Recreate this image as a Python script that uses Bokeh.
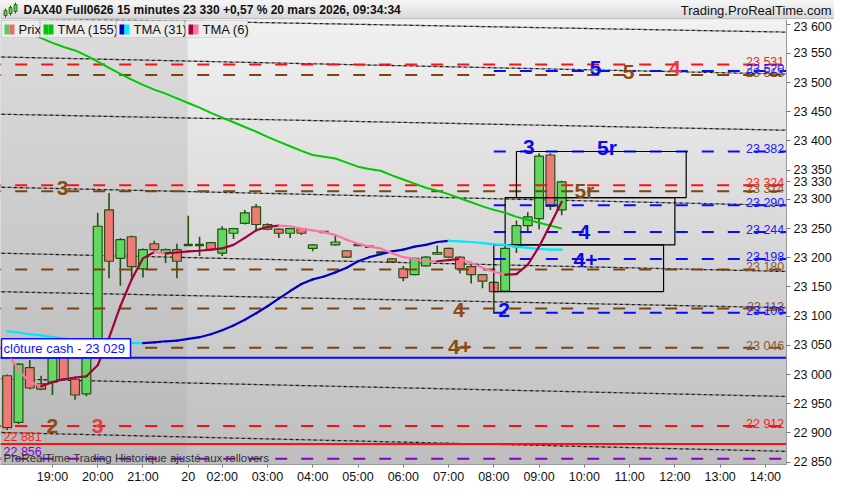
import numpy as np
from bokeh.plotting import figure
from bokeh.layouts import column
from bokeh.models import ColumnDataSource, FixedTicker, Range1d, Label, BoxAnnotation
from bokeh.core.properties import value
from bokeh.embed import file_html
from bokeh.resources import INLINE

FONT = "Liberation Sans"

# ---------------- data (15-minute candles, DAX40 Full0626) ----------------
opens = [22998, 22918, 23012, 22984, 22987, 23043, 22992, 22967, 23036, 23282,
         23199, 23236, 23181, 23224, 23209, 23214, 23222, 23222, 23226, 23208,
         23242, 23259, 23287, 23257, 23249, 23242, 23250, 23216, 23244, 23222,
         23212, 23222, 23219, 23209, 23198, 23181, 23171, 23186, 23209, 23216,
         23201, 23185, 23171, 23158, 23143, 23219, 23255, 23267, 23376, 23282]
highs = [23000, 23020, 23025, 22998, 23045, 23048, 22994, 23038, 23277, 23311,
         23234, 23238, 23216, 23229, 23216, 23224, 23272, 23236, 23227, 23254,
         23251, 23282, 23292, 23259, 23250, 23251, 23251, 23223, 23245, 23240,
         23213, 23223, 23220, 23210, 23199, 23186, 23200, 23203, 23221, 23217,
         23202, 23193, 23172, 23160, 23222, 23264, 23278, 23379, 23379, 23332]
lows = [22905, 22915, 22975, 22973, 22965, 22990, 22957, 22963, 23030, 23165,
        23152, 23166, 23166, 23212, 23191, 23165, 23220, 23203, 23213, 23203,
        23232, 23257, 23247, 23247, 23234, 23234, 23239, 23211, 23243, 23221,
        23200, 23221, 23218, 23208, 23192, 23160, 23170, 23185, 23205, 23199,
        23173, 23156, 23148, 23104, 23141, 23208, 23245, 23249, 23282, 23273]
closes = [22909, 23018, 22977, 22975, 23040, 22992, 22965, 23036, 23254, 23194,
          23231, 23185, 23214, 23214, 23214, 23194, 23222, 23222, 23214, 23249,
          23250, 23277, 23257, 23249, 23242, 23250, 23242, 23222, 23244, 23227,
          23201, 23222, 23219, 23209, 23193, 23166, 23199, 23201, 23206, 23201,
          23181, 23171, 23160, 23142, 23216, 23255, 23270, 23374, 23288, 23330]

tma155 = [23600, 23592, 23584, 23576, 23568, 23561, 23555, 23546, 23536, 23525,
          23515, 23505, 23496, 23488, 23481, 23473, 23465, 23457, 23448, 23440,
          23432, 23424, 23416, 23407, 23399, 23391, 23383, 23376, 23373, 23370,
          23363, 23356, 23352, 23349, 23341, 23334, 23327, 23320, 23315, 23309,
          23302, 23295, 23288, 23282, 23277, 23270, 23265, 23260, 23255, 23250]
tma31 = [23074, 23072, 23069, 23067, 23064, 23062, 23059, 23058, 23057, 23055,
         23054, 23054, 23054, 23055, 23057, 23058, 23061, 23064, 23069, 23076,
         23084, 23094, 23105, 23117, 23130, 23143, 23155, 23163, 23168, 23175,
         23183, 23194, 23201, 23206, 23211, 23214, 23219, 23222, 23227, 23229,
         23228, 23227, 23225, 23223, 23222, 23219, 23217, 23215, 23214, 23214]
tma6 = [23038, 23008, 22987, 22980, 22987, 22992, 22995, 22997, 23016, 23063,
        23117, 23163, 23199, 23210, 23207, 23209, 23211, 23212, 23214, 23216,
        23222, 23234, 23247, 23253, 23255, 23254, 23250, 23247, 23244, 23239,
        23231, 23224, 23219, 23216, 23208, 23201, 23198, 23194, 23194, 23196,
        23198, 23191, 23183, 23176, 23171, 23172, 23188, 23219, 23257, 23296]

x_tick_pos = [4, 8, 12, 16, 19, 23, 27, 31, 35, 39, 43, 47, 51, 55, 59, 63, 67]
x_tick_lbl = ["19:00", "20:00", "21:00", "20", "02:00", "03:00", "04:00", "05:00",
              "06:00", "07:00", "08:00", "09:00", "10:00", "11:00", "12:00", "13:00", "14:00"]
y_ticks = list(range(22850, 23601, 50))
session_start = 16          # first candle of 20 mars

# horizontal levels
dash_levels = [23513, 23314, 23180, 23113, 23046, 22912, 23531, 23324, 22912, 22856]
dash_kinds = ["brown", "brown", "brown", "brown", "brown", "brown", "red", "red", "red", "purple"]
blue_levels = [23520, 23382, 23290, 23244, 23198, 23106]
blue_from = 43
solid_levels = [23029, 22881]
solid_kinds = ["blue", "red"]

right_vals = [23513, 23531, 23520, 23382, 23324, 23314, 23290, 23244, 23198, 23180,
              23113, 23106, 23046, 22912]
right_kinds = ["brown", "red", "blue", "blue", "red", "brown", "blue", "blue", "blue", "brown",
               "brown", "blue", "brown", "red"]

# dotted channel lines (start/end candle index and price)
chan_i0, chan_i1 = -1, 70
chan_p0 = [23611, 23544, 23446, 23321, 23208, 23142, 22993, 22901]
chan_p1 = [23586, 23514, 23418, 23289, 23176, 23114, 22962, 22868]

# projection boxes
box_left = [45, 44, 43]
box_right = [60, 59, 58]
box_top = [23382, 23303, 23222]
box_bottom = [23303, 23222, 23142]

# wave labels
wave_text = ["3", "2", "3", "4", "4+", "2", "3", "5r", "5r", "4", "4+", "5", "5", "4"]
wave_i = [4.9, 4.0, 8.0, 39.9, 40.0, 43.9, 46.1, 53.0, 51.0, 51.0, 51.1, 52.0, 54.9, 59.0]
wave_p = [23320, 22912, 22912, 23110, 23048, 23110, 23390, 23388, 23316, 23244, 23197, 23525, 23518, 23525]
wave_kind = ["brown", "brown", "red", "brown", "brown", "blue", "blue", "blue", "brown", "blue",
             "blue", "blue", "brown", "red"]

last_price = 23330
cash_close = 23029
title_text = "DAX40 Full0626 15 minutes 23 330 +0,57 % 20 mars 2026, 09:34:34"
site_text = "Trading.ProRealTime.com"


def fmt(v):
    return f"{v // 1000} {v % 1000:03d}"


# ---------------- styling ----------------
LINE_COL = {"red": "#ff1010", "brown": "#7a4310", "blue": "#0a0aff", "purple": "#8400c8"}
TEXT_COL = {"red": "#ff2020", "brown": "#8a5a2e", "blue": "#1a1aff", "purple": "#8400c8"}
WAVE_COL = {"red": "#ee3a3a", "brown": "#8a4a10", "blue": "#0a0aee"}
WICK = "#24520e"
GREEN = "#62d862"
RED = "#ef7878"

TOTAL_W = 834
HDR_H = 19
FW, FH = 786, 445
X_LO = -0.59
X_HI = X_LO + FW / 11.317
Y_LO, Y_HI = 22846, 23608


def vgrad(top, bottom, n=160, w=4):
    img = np.empty((n, w), dtype=np.uint32)
    v = img.view(dtype=np.uint8).reshape((n, w, 4))
    for r in range(n):
        t = r / (n - 1)
        g = int(round(bottom + (top - bottom) * t))
        v[r, :, 0] = g
        v[r, :, 1] = g
        v[r, :, 2] = g
        v[r, :, 3] = 255
    return img


# ---------------- header strip ----------------
hdr = figure(frame_width=TOTAL_W, frame_height=HDR_H, x_range=Range1d(0, TOTAL_W),
             y_range=Range1d(0, HDR_H), output_backend="svg", toolbar_location=None,
             x_axis_location=None, y_axis_location=None, min_border=0,
             background_fill_color="#e4e4e4", border_fill_color="#e4e4e4",
             outline_line_color=None)
for obj in (hdr,):
    try:
        obj.frame_align = False
    except Exception:
        pass
hdr.xgrid.visible = False
hdr.ygrid.visible = False
hdr.image_rgba(image=[vgrad(247, 214, n=40)], x=-2, y=0, dw=TOTAL_W + 4, dh=HDR_H)
hdr.segment(x0=[0], x1=[TOTAL_W], y0=[0.5], y1=[0.5], line_color="#a8a8a8", line_width=1)
hdr.text(x=[23], y=[HDR_H / 2], text=[title_text], text_baseline="middle",
         text_font=value(FONT), text_font_size="12px", text_font_style="bold",
         text_color="#111111")
hdr.text(x=[TOTAL_W - 3], y=[HDR_H / 2], text=[site_text], text_baseline="middle",
         text_align="right", text_font=value(FONT), text_font_size="13px", text_color="#111111")
# small candle icon of the price window
icon_x = [5, 10, 15]
icon_b = [4, 6, 8]
icon_t = [9, 12, 15]
hdr.segment(x0=icon_x, x1=icon_x, y0=[b - 2 for b in icon_b], y1=[t + 2 for t in icon_t],
            line_color="#2a5a12", line_width=1)
hdr.vbar(x=icon_x, width=3, bottom=icon_b, top=icon_t, fill_color="#55c855",
         line_color="#2a5a12", line_width=0.8)

# ---------------- main chart ----------------
p = figure(frame_width=FW, frame_height=FH, x_range=Range1d(X_LO, X_HI),
           y_range=Range1d(Y_LO, Y_HI), output_backend="svg", toolbar_location=None,
           y_axis_location="right", min_border_left=0, min_border_right=TOTAL_W - FW,
           min_border_top=0, min_border_bottom=20, background_fill_color="#d6d6d6",
           border_fill_color="white", outline_line_color=None)
try:
    p.frame_align = False
except Exception:
    pass
p.xgrid.visible = False
p.ygrid.visible = False

p.image_rgba(image=[vgrad(220, 184)], x=X_LO - 1, y=Y_LO, dw=session_start - 0.05 - (X_LO - 1),
             dh=Y_HI - Y_LO)
p.image_rgba(image=[vgrad(241, 190)], x=session_start - 0.05, y=Y_LO,
             dw=X_HI + 1 - session_start, dh=Y_HI - Y_LO)

# axes
axis_ticks = sorted(y_ticks + [last_price])
for ax in (p.yaxis, p.xaxis):
    ax.major_label_text_font = FONT
    ax.major_label_text_color = "#111111"
    ax.axis_line_color = "#9a9a9a"
    ax.major_tick_line_color = "#777777"
    ax.minor_tick_line_color = None
    ax.major_tick_in = 0
p.yaxis.major_label_text_font_size = "12.5px"
p.xaxis.major_label_text_font_size = "12.5px"
p.yaxis.ticker = FixedTicker(ticks=axis_ticks)
p.yaxis.major_label_overrides = {t: fmt(t) for t in axis_ticks}
p.yaxis.major_tick_out = 4
p.yaxis.major_label_standoff = 3
p.xaxis.ticker = FixedTicker(ticks=x_tick_pos)
p.xaxis.major_label_overrides = dict(zip(x_tick_pos, x_tick_lbl))
p.xaxis.major_tick_out = 3
p.xaxis.major_label_standoff = 2

# dotted channel lines
n_ch = len(chan_p0)
ch = ColumnDataSource(dict(x0=[chan_i0] * n_ch, x1=[chan_i1] * n_ch, y0=chan_p0, y1=chan_p1))
p.segment(x0="x0", y0="y0", x1="x1", y1="y1", source=ch, line_color="#8c8c8c",
          line_width=1.3, line_dash="3 3", line_dash_offset=3)
p.segment(x0="x0", y0="y0", x1="x1", y1="y1", source=ch, line_color="#1a1a1a",
          line_width=1.3, line_dash="3 3")

# candles
idx = list(range(len(opens)))
src = ColumnDataSource(dict(
    x=idx, l=lows, h=highs,
    top=[max(o, c) for o, c in zip(opens, closes)],
    bot=[min(o, c) for o, c in zip(opens, closes)],
    col=[GREEN if c >= o else RED for o, c in zip(opens, closes)]))
p.segment(x0="x", y0="l", x1="x", y1="h", source=src, line_color=WICK, line_width=1.6)
p.vbar(x="x", width=0.78, top="top", bottom="bot", fill_color="col", line_color=WICK,
       line_width=1.2, source=src)
doji = [i for i in idx if opens[i] == closes[i]]
p.segment(x0=[i - 0.39 for i in doji], x1=[i + 0.39 for i in doji],
          y0=[closes[i] for i in doji], y1=[closes[i] for i in doji],
          line_color=WICK, line_width=2.5)

# levels
n_d = len(dash_levels)
p.segment(x0=[X_LO - 1] * n_d, x1=[X_HI + 1] * n_d, y0=dash_levels, y1=dash_levels,
          line_color=[LINE_COL[k] for k in dash_kinds], line_width=2, line_dash="12 14")
n_b = len(blue_levels)
p.segment(x0=[blue_from] * n_b, x1=[X_HI + 1] * n_b, y0=blue_levels, y1=blue_levels,
          line_color=LINE_COL["blue"], line_width=2, line_dash="12 14")
n_s = len(solid_levels)
p.segment(x0=[X_LO - 1] * n_s, x1=[X_HI + 1] * n_s, y0=solid_levels, y1=solid_levels,
          line_color=[LINE_COL[k] for k in solid_kinds], line_width=2)

# boxes
p.quad(left=box_left, right=box_right, top=box_top, bottom=box_bottom,
       fill_color=None, line_color="black", line_width=1.2)

# moving averages
p.line(idx, tma155, line_color="#00c800", line_width=2)


def colored(vals, up_col, down_col):
    x0 = idx[:-1]
    x1 = idx[1:]
    y0 = vals[:-1]
    y1 = vals[1:]
    cols = [up_col if b > a else down_col for a, b in zip(y0, y1)]
    p.segment(x0=x0, y0=y0, x1=x1, y1=y1, line_color=cols, line_width=2.2, line_cap="round")


colored(tma31, "#0000c8", "#00e6ff")
colored(tma6, "#a3003c", "#ff74a6")

# right-side level values
rs = ColumnDataSource(dict(x=[X_HI - 0.2] * len(right_vals), y=right_vals,
                           t=[fmt(v) for v in right_vals],
                           c=[TEXT_COL[k] for k in right_kinds]))
p.text(x="x", y="y", text="t", text_color="c", source=rs, text_align="right",
       text_baseline="alphabetic", y_offset=-2, text_font=value(FONT), text_font_size="12.5px")

# wave labels
ws = ColumnDataSource(dict(x=wave_i, y=wave_p, t=wave_text, c=[WAVE_COL[k] for k in wave_kind]))
p.text(x="x", y="y", text="t", text_color="c", source=ws, text_align="center",
       text_baseline="middle", text_font=value(FONT), text_font_size="21px",
       text_font_style="bold")

# left labels
p.add_layout(Label(x=1, y=cash_close, x_units="screen", text=f"clôture cash -  {fmt(cash_close)}",
                   text_font=FONT, text_font_size="13px", text_color="#1010ff",
                   text_baseline="bottom", background_fill_color="white",
                   border_line_color="#1010ff", border_line_width=1.5, padding=2))
p.add_layout(Label(x=3, y=22881, x_units="screen", text=fmt(22881), text_font=FONT,
                   text_font_size="12.5px", text_color="#ff2020", text_baseline="bottom"))
p.add_layout(Label(x=3, y=22856, x_units="screen", text=fmt(22856), text_font=FONT,
                   text_font_size="12.5px", text_color="#8400c8", text_baseline="bottom"))
p.add_layout(Label(x=3, y=1, x_units="screen", y_units="screen",
                   text="ProRealTime Trading  Historique ajusté aux rollovers",
                   text_font=FONT, text_font_size="11.5px", text_color="#333333",
                   text_baseline="bottom"))

# legend row
leg_left = [1, 40, 116, 185]
leg_right = [39, 115, 184, 247]
leg_text = ["Prix", "TMA (155)", "TMA (31)", "TMA (6)"]
leg_sw = [("#5cc85c", "#e86a6a"), ("#00c800", "#00c800"), ("#0000c8", "#00f0ff"),
          ("#a3003c", "#ff74a6")]
for l, r, t, (c1, c2) in zip(leg_left, leg_right, leg_text, leg_sw):
    p.add_layout(BoxAnnotation(left=l, right=r, bottom=FH - 18, top=FH - 1,
                               left_units="screen", right_units="screen", top_units="screen",
                               bottom_units="screen", fill_color="#ececec", fill_alpha=1,
                               line_color="#a8a8a8", line_width=1))
    p.add_layout(BoxAnnotation(left=l + 3, right=l + 8, bottom=FH - 15, top=FH - 5,
                               left_units="screen", right_units="screen", top_units="screen",
                               bottom_units="screen", fill_color=c1, fill_alpha=1,
                               line_color=None))
    p.add_layout(BoxAnnotation(left=l + 8, right=l + 13, bottom=FH - 15, top=FH - 5,
                               left_units="screen", right_units="screen", top_units="screen",
                               bottom_units="screen", fill_color=c2, fill_alpha=1,
                               line_color=None))
    p.add_layout(Label(x=l + 17, y=FH - 10, x_units="screen", y_units="screen", text=t,
                       text_font=FONT, text_font_size="13px", text_color="#111111",
                       text_baseline="middle"))

layout = column(hdr, p, spacing=0)
open("out.html", "w").write(file_html(layout, INLINE))
